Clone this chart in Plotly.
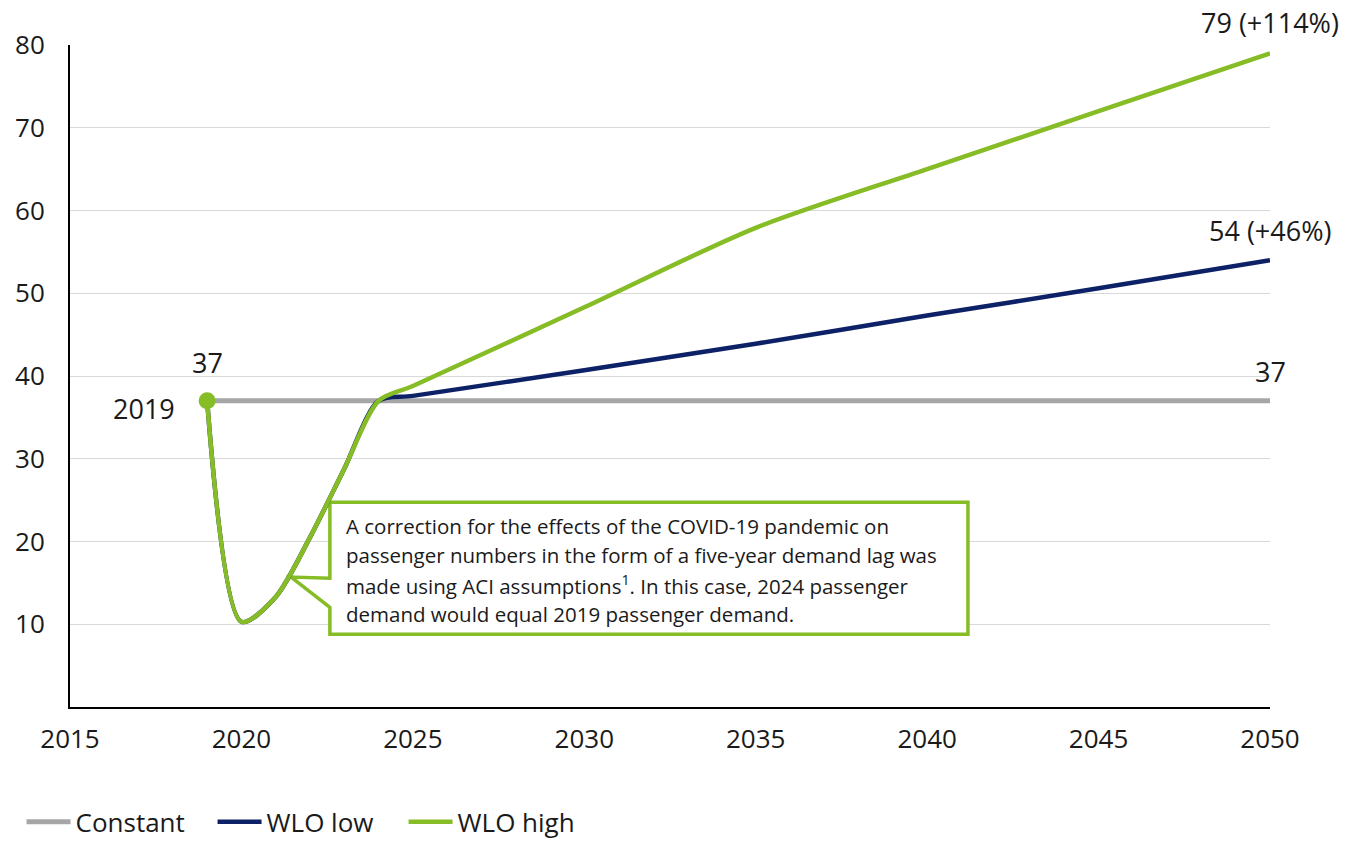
import plotly.graph_objects as go

# Passenger demand scenarios (million passengers)
years = [2019, 2020, 2021, 2022, 2023, 2024, 2025, 2030, 2035, 2040, 2045, 2050]
constant = [37] * len(years)
wlo_low = [37, 10.3, 13.3, 20.5, 28.8, 37, 37.6, 40.7, 43.9, 47.3, 50.6, 54]
wlo_high = [37, 10.3, 13.3, 20.5, 28.8, 37, 38.8, 48.3, 57.9, 65.0, 72.0, 79]

x_ticks = [2015, 2020, 2025, 2030, 2035, 2040, 2045, 2050]
y_ticks = [10, 20, 30, 40, 50, 60, 70, 80]

GRAY = "#A6A6A6"
NAVY = "#0C2166"
GREEN = "#86BC25"
TEXT = "#1A1A1A"
FONT = "Open Sans"

note_lines = [
    "A correction for the effects of the COVID-19 pandemic on",
    "passenger numbers in the form of a five-year demand lag was",
    "made using ACI assumptions<sup>1</sup>. In this case, 2024 passenger",
    "demand would equal 2019 passenger demand.",
]

fig = go.Figure()
fig.add_trace(go.Scatter(x=years, y=constant, name="Constant", mode="lines",
                         line=dict(color=GRAY, width=5)))
fig.add_trace(go.Scatter(x=years, y=wlo_low, name="WLO low", mode="lines",
                         line=dict(color=NAVY, width=4.5, shape="spline", smoothing=0.8)))
fig.add_trace(go.Scatter(x=years, y=wlo_high, name="WLO high", mode="lines",
                         line=dict(color=GREEN, width=4.5, shape="spline", smoothing=0.8)))
fig.add_trace(go.Scatter(x=[years[0]], y=[wlo_high[0]], mode="markers", showlegend=False,
                         marker=dict(color=GREEN, size=17), hoverinfo="skip"))

# Callout box for the COVID-19 note
bx0, bx1, by0, by1 = 2022.58, 2041.19, 8.8, 24.75
tip_x, tip_y = 2021.45, 15.7
fig.add_shape(type="path", xref="x", yref="y", layer="between",
              path=(f"M {bx0},{by1} L {bx1},{by1} L {bx1},{by0} L {bx0},{by0} "
                    f"L {bx0},12.05 L {tip_x},{tip_y} L {bx0},15.56 Z"),
              line=dict(color=GREEN, width=3.5), fillcolor="white")
for i, line in enumerate(note_lines):
    fig.add_annotation(x=2023.0, y=21.9, xref="x", yref="y", text=line,
                       showarrow=False, xanchor="left", yanchor="middle", align="left",
                       yshift=-29.5 * i,
                       font=dict(family=FONT, size=20.5, color=TEXT))

label_font = dict(family=FONT, size=27, color=TEXT)
fig.add_annotation(x=years[0], y=wlo_high[0], text="37", showarrow=False,
                   yshift=38, font=label_font)
fig.add_annotation(x=years[0], y=wlo_high[0], text="2019", showarrow=False,
                   xanchor="right", xshift=-30, yshift=-8, font=label_font)
fig.add_annotation(x=years[-1], y=constant[-1], text="37", showarrow=False,
                   yshift=29, font=label_font)
fig.add_annotation(x=years[-1], y=wlo_low[-1], text="54 (+46%)", showarrow=False,
                   yshift=30, font=label_font)
fig.add_annotation(x=years[-1], y=wlo_high[-1], text="79 (+114%)", showarrow=False,
                   yshift=31, font=label_font)

fig.update_layout(
    width=1347, height=842,
    margin=dict(l=70, r=77, t=45, b=135),
    paper_bgcolor="white", plot_bgcolor="white",
    font=dict(family=FONT, color=TEXT),
    showlegend=True,
    legend=dict(orientation="h", xref="container", yref="container",
                x=0.016, y=0.024, xanchor="left", yanchor="middle",
                font=dict(family=FONT, size=26, color=TEXT),
                itemwidth=44, entrywidth=132, entrywidthmode="pixels",
                traceorder="normal"),
    xaxis=dict(range=[2015, 2050], tickvals=x_ticks, showgrid=False,
               showline=True, linecolor="black", linewidth=2, zeroline=False,
               ticks="", ticklabelstandoff=8,
               tickfont=dict(family=FONT, size=26, color=TEXT)),
    yaxis=dict(range=[0, 80], tickvals=y_ticks, showgrid=True,
               gridcolor="#D9D9D9", gridwidth=1,
               showline=True, linecolor="black", linewidth=2, zeroline=False,
               ticks="", ticklabelstandoff=18,
               tickfont=dict(family=FONT, size=26, color=TEXT)),
)

fig.write_html("out.html")
